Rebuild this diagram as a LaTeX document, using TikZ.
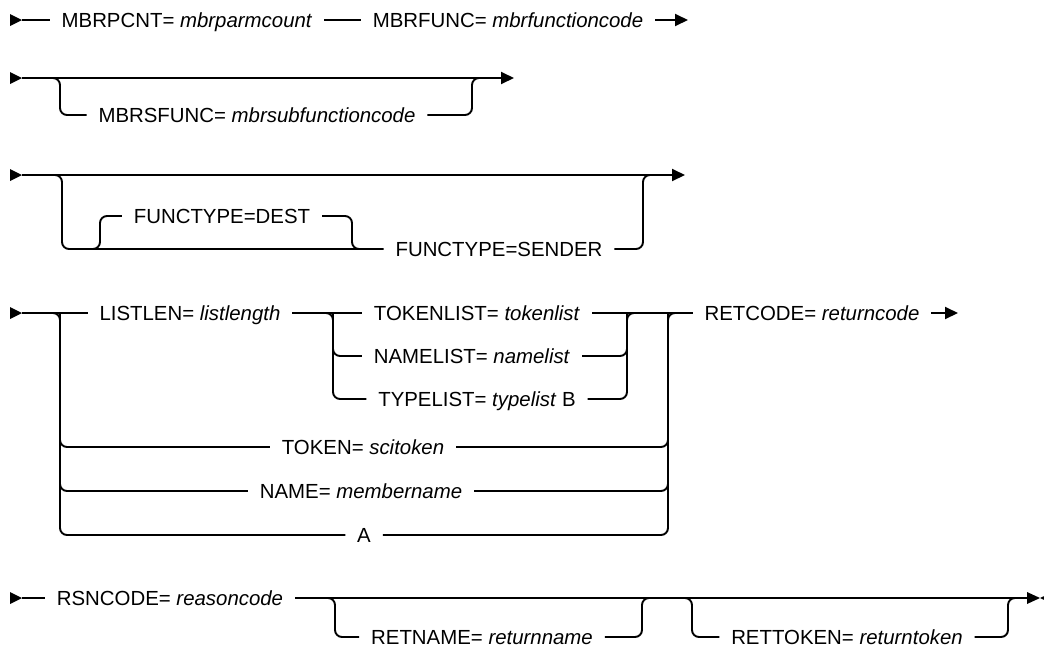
\documentclass[tikz,border=0pt]{standalone}
\usepackage{fontspec}
\setmainfont{Liberation Sans}
\usetikzlibrary{arrows.meta,positioning}

\begin{document}
\begin{tikzpicture}[x=1pt,y=-1pt,line width=1.9pt,
  txt/.style={inner xsep=11pt,inner ysep=0pt,text height=14.6pt,text depth=0pt,font=\fontsize{20.4}{24}\selectfont},
  rail/.style={rounded corners=7pt},
  tip/.style={-{Triangle[length=13pt,width=12pt]}}]
\useasboundingbox (0,0) rectangle (1044,649);

\coordinate (s1) at (22,20);
\node[txt] (mbrpcnt) at (187,20) {MBRPCNT= \textit{mbrparmcount}};
\node[txt] (mbrfunc) at (508,20) {MBRFUNC= \textit{mbrfunctioncode}};
\coordinate (e1) at (688,20);
\fill (10,14) -- (s1) -- (10,26) -- cycle;
\draw (s1) -- (mbrpcnt);
\draw (mbrpcnt) -- (mbrfunc);
\draw[tip] (mbrfunc) -- (e1);

\coordinate (s2) at (22,78);
\coordinate (b2) at (60,78);
\node[txt] (mbrsfunc) at (257,115) {MBRSFUNC= \textit{mbrsubfunctioncode}};
\coordinate (m2) at (472,78);
\coordinate (j2) at (486,78);
\coordinate (e2) at (514,78);
\fill (10,72) -- (s2) -- (10,84) -- cycle;
\draw[tip] (s2) -- (e2);
\draw[rail] (s2) -- (b2) |- (mbrsfunc.west);
\draw[rail] (mbrsfunc.east) -| (m2) -- (j2);

\coordinate (s3) at (22,175);
\coordinate (b3) at (62,175);
\node[txt] (dest) at (222,216) {FUNCTYPE=DEST};
\node[txt] (sender) at (499,249) {FUNCTYPE=SENDER};
\coordinate (d3a) at (88,249);
\coordinate (d3b) at (100,249);
\coordinate (d3c) at (352,249);
\coordinate (d3d) at (366,249);
\coordinate (m3) at (643,175);
\coordinate (j3) at (657,175);
\coordinate (e3) at (685,175);
\fill (10,169) -- (s3) -- (10,181) -- cycle;
\draw[tip] (s3) -- (e3);
\draw[rail] (s3) -- (b3) |- (sender.west);
\draw[rail] (sender.east) -| (m3) -- (j3);
\draw[rail] (d3a) -- (d3b) |- (dest.west);
\draw[rail] (dest.east) -| (d3c) -- (d3d);

\coordinate (s4) at (22,313);
\coordinate (b4) at (60,313);
\node[txt] (listlen) at (190,313) {LISTLEN= \textit{listlength}};
\coordinate (g4) at (333,313);
\node[txt] (tokenlist) at (477,313) {TOKENLIST= \textit{tokenlist}};
\node[txt] (namelist) at (472,356) {NAMELIST= \textit{namelist}};
\node[txt] (typelist) at (477,399) {TYPELIST= \textit{typelist} B};
\coordinate (h4) at (627,313);
\coordinate (k4) at (641,313);
\node[txt] (token) at (363,447) {TOKEN= \textit{scitoken}};
\node[txt] (name) at (361,491) {NAME= \textit{membername}};
\node[txt] (a) at (364,535) {A};
\coordinate (m4) at (668,313);
\coordinate (n4) at (682,313);
\node[txt] (retcode) at (812,313) {RETCODE= \textit{returncode}};
\coordinate (e4) at (958,313);
\fill (10,307) -- (s4) -- (10,319) -- cycle;
\draw (s4) -- (listlen);
\draw (listlen) -- (tokenlist);
\draw (tokenlist) -- (retcode);
\draw[tip] (retcode) -- (e4);
\draw[rail] (listlen.east) -- (g4) |- (typelist.west);
\draw[rail] (g4) |- (namelist.west);
\draw[rail] (typelist.east) -| (h4) -- (k4);
\draw[rail] (namelist.east) -| (h4);
\draw[rail] (s4) -- (b4) |- (a.west);
\draw[rail] (b4) |- (token.west);
\draw[rail] (b4) |- (name.west);
\draw[rail] (a.east) -| (m4) -- (n4);
\draw[rail] (token.east) -| (m4);
\draw[rail] (name.east) -| (m4);

\coordinate (s5) at (22,598);
\node[txt] (rsncode) at (170,598) {RSNCODE= \textit{reasoncode}};
\coordinate (b5) at (335,598);
\node[txt] (retname) at (482,637) {RETNAME= \textit{returnname}};
\coordinate (m5) at (642,598);
\coordinate (j5) at (656,598);
\coordinate (p5) at (678,598);
\coordinate (c5) at (692,598);
\node[txt] (rettoken) at (847,637) {RETTOKEN= \textit{returntoken}};
\coordinate (q5) at (1008,598);
\coordinate (e5) at (1028,598);
\fill (10,592) -- (s5) -- (10,604) -- cycle;
\draw (s5) -- (rsncode);
\draw (rsncode) -- (e5);
\draw[rail] (rsncode.east) -- (b5) |- (retname.west);
\draw[rail] (retname.east) -| (m5) -- (j5);
\draw[rail] (p5) -- (c5) |- (rettoken.west);
\draw[rail] (rettoken.east) -| (q5) -- (e5);
\fill (1027,592) -- (1040,598) -- (1027,604) -- cycle;
\fill (1053,592) -- (1040,598) -- (1053,604) -- cycle;
\end{tikzpicture}
\end{document}
